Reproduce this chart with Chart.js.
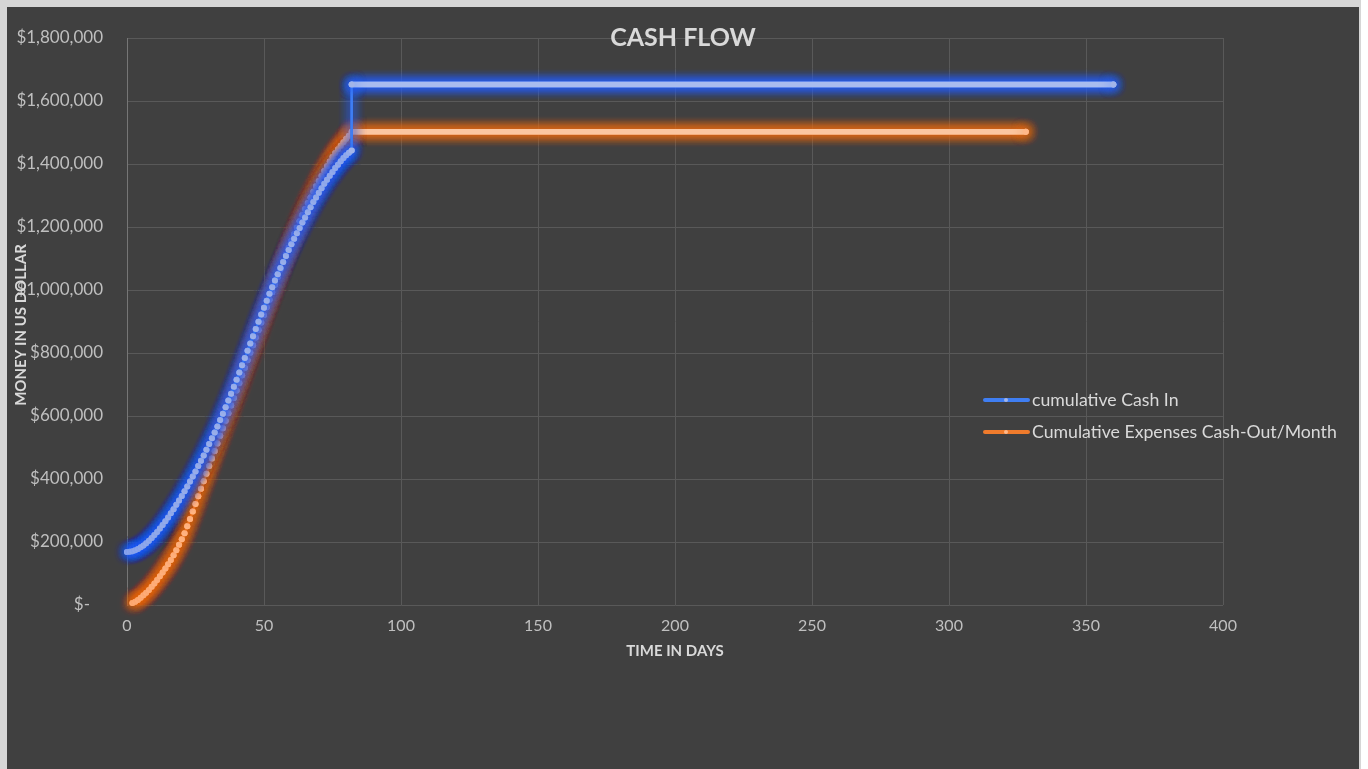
<!DOCTYPE html>
<html>
<head>
<meta charset="utf-8">
<title>Cash Flow</title>
<script src="https://cdn.jsdelivr.net/npm/chart.js@4.4.1/dist/chart.umd.min.js"></script>
<style>
  html, body { margin: 0; padding: 0; background: #ffffff; }
  #frame { position: absolute; left: 0; top: 0; width: 1361px; height: 769px; background: #d6d6d6; }
  #chart { position: absolute; left: 7px; top: 7px; background: #404040; }
</style>
</head>
<body>
<div id="frame"><canvas id="chart" width="1352" height="762"></canvas></div>
<script>
// cumulative cash in: daily points up to day 82, then the jump and the flat run to day 360
const cashInDays = [
  0, 1, 2, 3, 4, 5, 6, 7, 8, 9, 10, 11, 12, 13, 14, 15, 16, 17, 18, 19, 20,
  21, 22, 23, 24, 25, 26, 27, 28, 29, 30, 31, 32, 33, 34, 35, 36, 37, 38, 39, 40,
  41, 42, 43, 44, 45, 46, 47, 48, 49, 50, 51, 52, 53, 54, 55, 56, 57, 58, 59, 60,
  61, 62, 63, 64, 65, 66, 67, 68, 69, 70, 71, 72, 73, 74, 75, 76, 77, 78, 79, 80,
  81, 82, 82, 360
];
const cashInValues = [
  168000, 169000, 171000, 174000, 178000, 183000, 189000, 196000, 204000, 213000, 222000,
  232000, 243000, 254000, 266000, 278000, 291000, 304000, 318000, 332000, 346000,
  361000, 376000, 392000, 408000, 424000, 441000, 458000, 475000, 493000, 511000,
  529000, 548000, 567000, 587000, 607000, 628000, 649000, 671000, 693000, 715000,
  738000, 761000, 784000, 807000, 830000, 853000, 876000, 899000, 922000, 944000,
  966000, 988000, 1009000, 1030000, 1050000, 1070000, 1089000, 1108000, 1127000, 1145000,
  1163000, 1180000, 1197000, 1214000, 1230000, 1247000, 1263000, 1279000, 1294000, 1309000,
  1323000, 1337000, 1350000, 1363000, 1375000, 1387000, 1398000, 1409000, 1419000, 1428000,
  1436000, 1443000, 1652000, 1652000
];

// cumulative expenses: daily points from day 2 to day 82, then flat to day 328
const expenseDays = [
  2, 3, 4, 5, 6, 7, 8, 9, 10, 11, 12, 13, 14, 15, 16, 17, 18, 19, 20,
  21, 22, 23, 24, 25, 26, 27, 28, 29, 30, 31, 32, 33, 34, 35, 36, 37, 38, 39, 40,
  41, 42, 43, 44, 45, 46, 47, 48, 49, 50, 51, 52, 53, 54, 55, 56, 57, 58, 59, 60,
  61, 62, 63, 64, 65, 66, 67, 68, 69, 70, 71, 72, 73, 74, 75, 76, 77, 78, 79, 80,
  81, 82, 328
];
const expenseValues = [
  6000, 10000, 16000, 23000, 31000, 39000, 48000, 58000, 68000,
  79000, 91000, 103000, 116000, 129000, 143000, 158000, 174000, 191000, 209000,
  228000, 250000, 273000, 297000, 321000, 345000, 369000, 393000, 417000, 441000,
  465000, 489000, 513000, 537000, 561000, 585000, 609000, 633000, 657000, 681000,
  705000, 729000, 753000, 777000, 801000, 825000, 849000, 873000, 897000, 921000,
  945000, 969000, 993000, 1017000, 1041000, 1065000, 1089000, 1112000, 1134000, 1156000,
  1177000, 1198000, 1218000, 1238000, 1257000, 1276000, 1294000, 1312000, 1329000, 1346000,
  1362000, 1378000, 1393000, 1408000, 1422000, 1435000, 1447000, 1458000, 1469000, 1480000,
  1490000, 1502000, 1502000
];

const seriesLabels = ["cumulative Cash In", "Cumulative Expenses Cash-Out/Month"];

const FONT = "Lato, 'Open Sans', sans-serif";
const TEXT = "#d9d9d9";
const GRID = "#595959";

const toPoints = (xs, ys) => xs.map((x, i) => ({ x, y: ys[i] }));
const isFlat = (ctx) => ctx.p0.parsed.y === ctx.p1.parsed.y;

// excel style glow: shadow under line and markers, stacked a few times to thicken it
const glowPlugin = {
  id: "glow",
  beforeDatasetDraw(chart, args) {
    const ds = chart.data.datasets[args.index];
    const ctx = chart.ctx;
    ctx.save();
    ctx.shadowColor = ds.glowColor;
    ctx.shadowBlur = 12;
    args.meta.controller.draw();
    args.meta.controller.draw();
    args.meta.controller.draw();
  },
  afterDatasetDraw(chart) {
    chart.ctx.restore();
  },
};

// title and y axis title sit on top of the plot like in the spreadsheet
const overlayText = {
  id: "overlayText",
  afterDraw(chart) {
    const ctx = chart.ctx;
    ctx.save();
    ctx.fillStyle = TEXT;
    ctx.textAlign = "center";
    ctx.textBaseline = "middle";
    ctx.font = "bold 25px " + FONT;
    ctx.fillText("CASH FLOW", 676, 31);

    ctx.translate(14, 318);
    ctx.rotate(-Math.PI / 2);
    ctx.font = "bold 15px " + FONT;
    ctx.fillText("MONEY IN US DOLLAR", 0, 0);
    ctx.restore();
  },
};

const sideLegend = {
  id: "sideLegend",
  afterDraw(chart) {
    const ctx = chart.ctx;
    const x = 978, y0 = 393, gap = 32;
    chart.data.datasets.forEach((ds, i) => {
      const y = y0 + i * gap;
      ctx.save();
      ctx.strokeStyle = ds.borderColor;
      ctx.lineWidth = 4;
      ctx.lineCap = "round";
      ctx.beginPath();
      ctx.moveTo(x, y);
      ctx.lineTo(x + 43, y);
      ctx.stroke();
      ctx.fillStyle = ds.pointBackgroundColor;
      ctx.beginPath();
      ctx.arc(x + 21, y, 2, 0, Math.PI * 2);
      ctx.fill();
      ctx.fillStyle = TEXT;
      ctx.font = "17.7px " + FONT;
      ctx.textBaseline = "middle";
      ctx.fillText(ds.label, x + 47, y);
      ctx.restore();
    });
  },
};

new Chart(document.getElementById("chart"), {
  type: "line",
  data: {
    datasets: [
      {
        label: seriesLabels[0],
        data: toPoints(cashInDays, cashInValues),
        borderColor: "#3f7ef2",
        borderWidth: 2,
        pointBackgroundColor: "#a3b5e8",
        pointBorderWidth: 0,
        pointRadius: 3,
        glowColor: "rgba(35,95,255,1)",
        segment: {
          borderColor: (ctx) => (isFlat(ctx) ? "#a9bcef" : undefined),
          borderWidth: (ctx) => (isFlat(ctx) ? 5.5 : undefined),
        },
      },
      {
        label: seriesLabels[1],
        data: toPoints(expenseDays, expenseValues),
        borderColor: "#ef7b2c",
        borderWidth: 2,
        pointBackgroundColor: "#ffb889",
        pointBorderWidth: 0,
        pointRadius: 3,
        glowColor: "rgba(235,105,15,1)",
        segment: {
          borderColor: (ctx) => (isFlat(ctx) ? "#fbc6a0" : undefined),
          borderWidth: (ctx) => (isFlat(ctx) ? 5.5 : undefined),
        },
      },
    ],
  },
  options: {
    responsive: false,
    animation: false,
    events: [],
    layout: { padding: { left: 0, right: 136, top: 31, bottom: 104 } },
    elements: { line: { tension: 0, borderCapStyle: "round" }, point: { hoverRadius: 0 } },
    plugins: {
      legend: { display: false },
      tooltip: { enabled: false },
    },
    scales: {
      x: {
        type: "linear",
        min: 0,
        max: 400,
        ticks: { stepSize: 50, color: "#bfbfbf", font: { family: FONT, size: 16 }, padding: 11 },
        grid: { color: GRID, drawTicks: false },
        border: { display: false },
        title: {
          display: true,
          text: "TIME IN DAYS",
          color: TEXT,
          font: { family: FONT, size: 15, weight: "bold" },
          padding: { top: 0, bottom: 5 },
        },
        afterFit(scale) { scale.height = 60; },
      },
      y: {
        min: 0,
        max: 1800000,
        ticks: {
          stepSize: 200000,
          color: "#bfbfbf",
          font: { family: FONT, size: 17 },
          padding: 24,
          callback: (v) => (v === 0 ? "$-   " : "$" + v.toLocaleString("en-US")),
        },
        grid: { color: GRID, drawTicks: false },
        border: { color: "#767676" },
        afterFit(scale) {
          scale.width = 120;
          // tick padding is horizontal here, keep it from pushing the plot top down
          scale.paddingTop = 10;
          scale.paddingBottom = 10;
        },
      },
    },
  },
  plugins: [glowPlugin, overlayText, sideLegend],
});
</script>
</body>
</html>
